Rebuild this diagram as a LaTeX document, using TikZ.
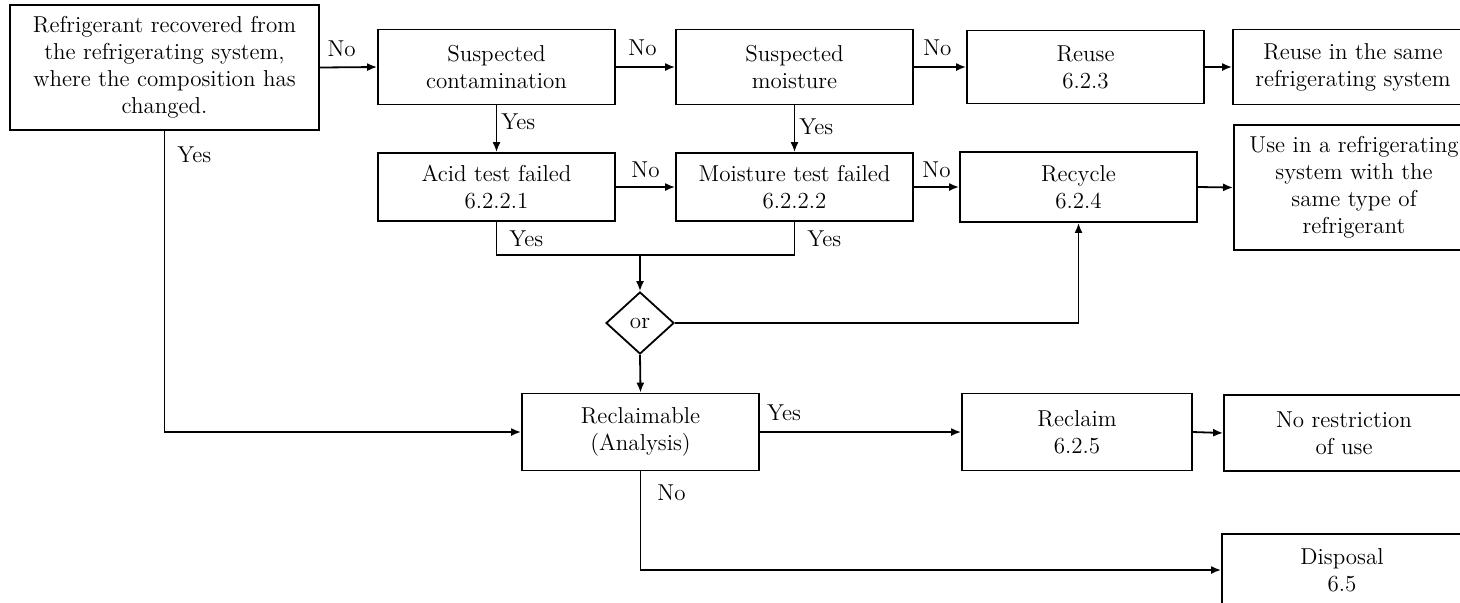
\documentclass[tikz,border=0pt]{standalone}
\usepackage{amsmath}
\usetikzlibrary{arrows.meta,shapes.geometric}

\begin{document}
\begin{tikzpicture}[x=0.5pt,y=-0.5pt,font=\fontsize{11.5}{13.5}\selectfont,
  box/.style={draw,line width=0.9pt,align=center,inner sep=1pt,minimum width=118.5pt,minimum height=37.5pt},
  flow/.style={line width=0.9pt,-{Latex[length=5pt,width=4pt]}},
  link/.style={line width=0.9pt},
  lbl/.style={inner sep=2pt}]
\useasboundingbox (0,0) rectangle (1460,602);
% first row
\node[box,minimum width=154.5pt,minimum height=62.5pt] (start) at (164.5,67.5) {Refrigerant recovered from\\the refrigerating system,\\where the composition has\\changed.};
\node[box] (contam) at (496.5,67) {Suspected\\contamination};
\node[box] (moist) at (794.5,67) {Suspected\\moisture};
\node[box,minimum height=36.5pt] (reuse) at (1085.5,67) {Reuse\\6.2.3};
\node[box,minimum width=120pt] (reusesame) at (1353,67) {Reuse in the same\\refrigerating system};
% second row
\node[box,minimum height=34pt] (acid) at (496.5,187) {Acid test failed\\6.2.2.1};
\node[box,minimum height=34pt] (mtest) at (794.5,187) {Moisture test failed\\6.2.2.2};
\node[box,minimum height=35pt] (recycle) at (1078.5,187) {Recycle\\6.2.4};
\node[box,minimum width=120pt,minimum height=62.5pt] (usein) at (1354,187.5) {Use in a refrigerating\\system with the\\same type of\\refrigerant};
% decision and lower rows
\node[draw,line width=0.9pt,diamond,inner sep=0pt,minimum width=34pt,minimum height=31pt] (orgate) at (640,323) {or};
\node[box,minimum height=38.5pt] (reclaimable) at (640.5,432) {Reclaimable\\(Analysis)};
\node[box,minimum width=115pt,minimum height=38.5pt] (reclaim) at (1077,432) {Reclaim\\6.2.5};
\node[box,minimum width=120pt,minimum height=38pt] (norestrict) at (1344,433) {No restriction\\of use};
\node[box,minimum width=120pt,minimum height=36pt] (disposal) at (1342,570) {Disposal\\6.5};
\coordinate (merge) at (640,255);

\draw[flow] (start.east) -- node[lbl,above,pos=0.38,yshift=3pt] {No} (contam.west);
\draw[flow] (contam.east) -- node[lbl,above,pos=0.45,yshift=3pt] {No} (moist.west);
\draw[flow] (moist.east) -- node[lbl,above,pos=0.45,yshift=3pt] {No} (reuse.west);
\draw[flow] (reuse.east) -- (reusesame.west);
\draw[flow] (contam.south) -- node[lbl,right,pos=0.35] {Yes} (acid.north);
\draw[flow] (moist.south) -- node[lbl,right,pos=0.45] {Yes} (mtest.north);
\draw[flow] (acid.east) -- node[lbl,above,pos=0.5,yshift=2pt] {No} (mtest.west);
\draw[flow] (mtest.east) -- node[lbl,above,pos=0.5,yshift=2pt] {No} (recycle.west);
\draw[flow] (recycle.east) -- (usein.west);
\draw[link] (acid.south) -- node[lbl,right,xshift=4pt] {Yes} (acid.south |- merge) -- (mtest.south |- merge)
  -- node[lbl,right,xshift=4pt] {Yes} (mtest.south);
\draw[flow] (merge) -- (orgate.north);
\draw[flow] (orgate.east) -| (recycle.south);
\draw[flow] (orgate.south) -- (reclaimable.north);
\draw[flow] (start.south) |- node[lbl,anchor=west,pos=0.04,xshift=4pt] {Yes} (reclaimable.west);
\draw[flow] (reclaimable.east) -- node[lbl,above,pos=0.12,yshift=3pt] {Yes} (reclaim.west);
\draw[flow] (reclaim.east) -- (norestrict.west);
\draw[flow] (reclaimable.south) |- node[lbl,anchor=west,pos=0.11,xshift=6pt] {No} (disposal.west);
\end{tikzpicture}
\end{document}
